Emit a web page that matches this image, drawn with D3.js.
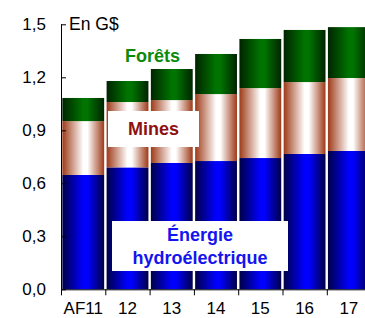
<!DOCTYPE html>
<html>
<head>
<meta charset="utf-8">
<script src="https://cdn.jsdelivr.net/npm/d3@7"></script>
<style>
  body { margin: 0; background: #fff; }
  svg { display: block; font-family: "Liberation Sans", Arial, sans-serif; }
</style>
</head>
<body>
<div id="chart-container"></div>
<script>
// Data (G$)
const categories = ["AF11", "12", "13", "14", "15", "16", "17"];
const energie = [0.647, 0.690, 0.715, 0.726, 0.743, 0.766, 0.783];
const mines   = [0.305, 0.370, 0.356, 0.379, 0.396, 0.407, 0.413];
const forets  = [0.131, 0.119, 0.176, 0.227, 0.278, 0.295, 0.288];
const yTicks = [0, 0.3, 0.6, 0.9, 1.2, 1.5];
const yTickLabels = ["0,0", "0,3", "0,6", "0,9", "1,2", "1,5"];

const width = 365, height = 318;

// Build a table for the stack
const table = categories.map((c, i) => ({ cat: c, energie: energie[i], mines: mines[i], forets: forets[i] }));
const keys = ["energie", "mines", "forets"];
const stacked = d3.stack().keys(keys)(table);

const svg = d3.select("#chart-container")
  .append("svg")
  .attr("width", width)
  .attr("height", height);

// Gradients (dark edges, bright centre)
const defs = svg.append("defs");
const grads = {
  energie: ["#000048", "#0000ff"],
  mines: ["#9e3a18", "#ffffff"],
  forets: ["#002400", "#007400"]
};
Object.keys(grads).forEach(k => {
  const g = defs.append("linearGradient").attr("id", "g-" + k)
    .attr("x1", "0%").attr("x2", "100%").attr("y1", "0%").attr("y2", "0%");
  g.append("stop").attr("offset", "0%").attr("stop-color", grads[k][0]);
  g.append("stop").attr("offset", "50%").attr("stop-color", grads[k][1]);
  g.append("stop").attr("offset", "60%").attr("stop-color", grads[k][1]);
  g.append("stop").attr("offset", "100%").attr("stop-color", grads[k][0]);
});

// Scales
const x0 = 61;
const step = 44.3;
const xScale = d3.scaleBand()
  .domain(categories)
  .range([x0, x0 + step * categories.length])
  .paddingInner(0.055)
  .paddingOuter(0.03);
const yScale = d3.scaleLinear().domain([0, 1.5]).range([289.3, 24.3]);

// Bars
svg.selectAll(".layer")
  .data(stacked)
  .enter().append("g")
  .attr("class", "layer")
  .attr("fill", d => "url(#g-" + d.key + ")")
  .selectAll("rect")
  .data(d => d)
  .enter().append("rect")
  .attr("x", d => xScale(d.data.cat))
  .attr("width", xScale.bandwidth())
  .attr("y", d => yScale(d[1]))
  .attr("height", d => yScale(d[0]) - yScale(d[1]));

// Y axis (ticks pointing inward)
const yAxis = svg.append("g")
  .attr("transform", "translate(" + x0 + ",0)")
  .call(d3.axisRight(yScale).tickValues(yTicks).tickSize(5).tickFormat(""));
yAxis.select(".domain").attr("d", "M0.5," + yScale(1.5) + "V" + yScale(0)).attr("stroke", "#000");
yAxis.selectAll(".tick line").attr("stroke", "#000");

svg.selectAll(".ylab")
  .data(yTicks)
  .enter().append("text")
  .attr("class", "ylab")
  .attr("x", 46)
  .attr("y", d => yScale(d) + 6)
  .attr("text-anchor", "end")
  .style("font-size", "17px")
  .text((d, i) => yTickLabels[i]);

// X axis
const xAxis = svg.append("g").attr("transform", "translate(0," + yScale(0) + ")");
xAxis.append("line")
  .attr("x1", x0).attr("x2", width)
  .attr("y1", 0.5).attr("y2", 0.5)
  .attr("stroke", "#000");
xAxis.selectAll(".xtick")
  .data(categories)
  .enter().append("line")
  .attr("class", "xtick")
  .attr("x1", (d, i) => x0 + 0.5 + i * step)
  .attr("x2", (d, i) => x0 + 0.5 + i * step)
  .attr("y1", 0).attr("y2", 6)
  .attr("stroke", "#000");
xAxis.selectAll(".xlab")
  .data(categories)
  .enter().append("text")
  .attr("class", "xlab")
  .attr("x", d => xScale(d) + xScale.bandwidth() / 2)
  .attr("y", 25)
  .attr("text-anchor", "middle")
  .style("font-size", "17px")
  .text(d => d);

// Unit label
svg.append("text")
  .attr("x", 69).attr("y", 30)
  .style("font-size", "17.5px")
  .text("En G$");

// Series labels
svg.append("text")
  .attr("x", 152.5).attr("y", 62)
  .attr("text-anchor", "middle")
  .style("font-size", "18px").style("font-weight", "bold")
  .attr("fill", "#0b8a0b")
  .text("Forêts");

svg.append("rect")
  .attr("x", 108).attr("y", 111).attr("width", 91).attr("height", 36)
  .attr("fill", "#fff");
svg.append("text")
  .attr("x", 153.5).attr("y", 135)
  .attr("text-anchor", "middle")
  .style("font-size", "18px").style("font-weight", "bold")
  .attr("fill", "#8e1010")
  .text("Mines");

svg.append("rect")
  .attr("x", 112).attr("y", 221).attr("width", 176).attr("height", 50)
  .attr("fill", "#fff");
const lab = svg.append("text")
  .attr("text-anchor", "middle")
  .style("font-size", "18px").style("font-weight", "bold")
  .attr("fill", "#1414ee");
lab.append("tspan").attr("x", 200).attr("y", 241).text("Énergie");
lab.append("tspan").attr("x", 200).attr("y", 264).text("hydroélectrique");
</script>
</body>
</html>
